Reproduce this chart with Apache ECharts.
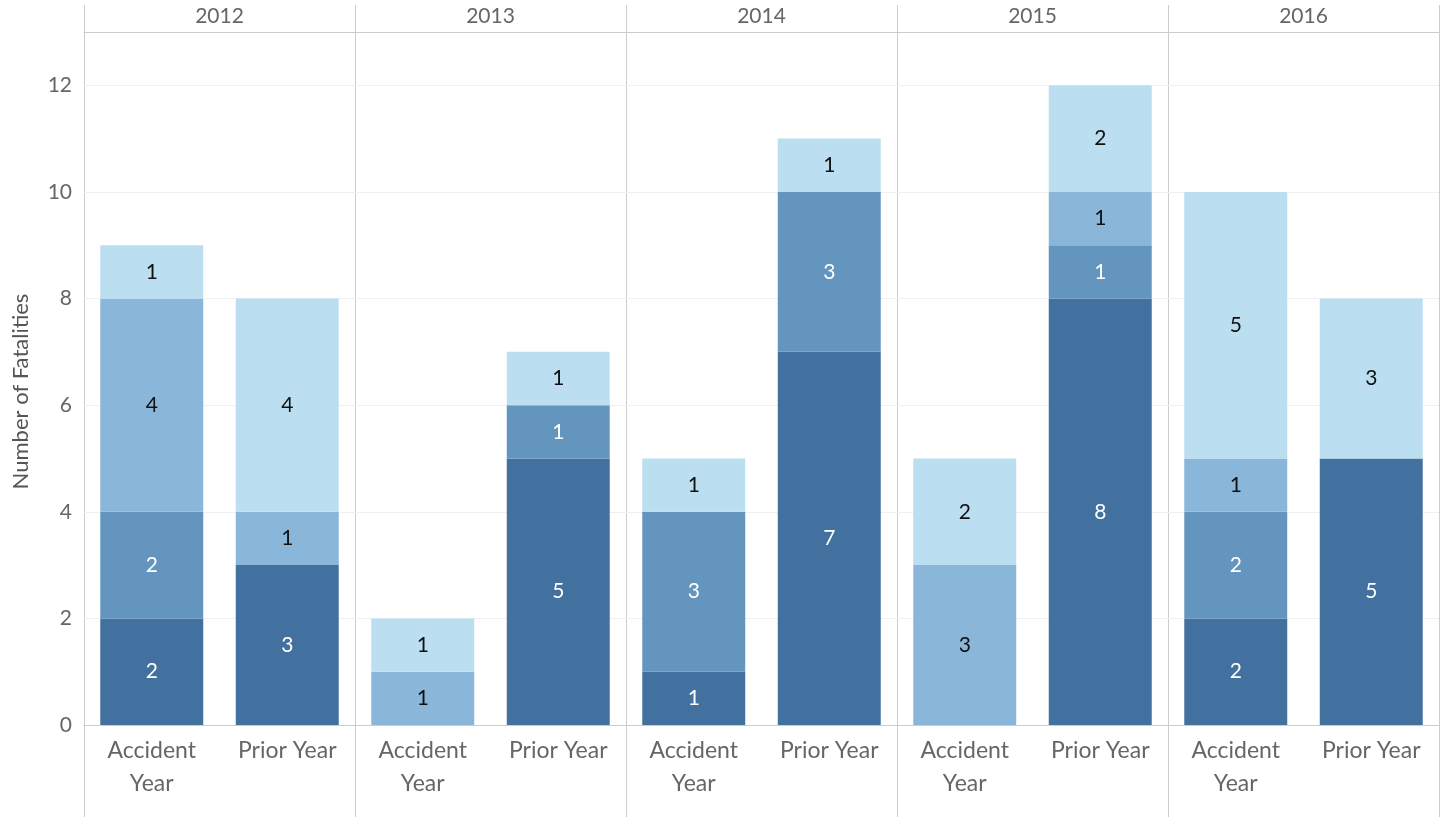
<!DOCTYPE html>
<html>
<head>
<meta charset="utf-8">
<script src="https://cdn.jsdelivr.net/npm/echarts@6/dist/echarts.min.js"></script>
<style>
  html, body { margin: 0; padding: 0; background: #fff; }
  #chart { width: 1441px; height: 817px; }
</style>
</head>
<body>
<div id="chart"></div>
<script>
// one entry per year panel
const years = ['2012', '2013', '2014', '2015', '2016']
const categories = ['Accident\nYear', 'Prior Year']

// stacked bands, bottom to top; pairs per year: [Accident, Prior]
const band1 = [2, 3, 0, 5, 1, 7, 0, 8, 2, 5]
const band2 = [2, 0, 0, 1, 3, 3, 0, 1, 2, 0]
const band3 = [4, 1, 1, 0, 0, 0, 3, 1, 1, 0]
const band4 = [1, 4, 1, 1, 1, 1, 2, 2, 5, 3]
const yTicks = [0, 2, 4, 6, 8, 10, 12]

const bands = [band1, band2, band3, band4]
const bandColors = ['#42709f', '#6495bf', '#8ab7d9', '#bbdff1']
const labelColors = ['#ffffff', '#ffffff', '#111111', '#111111']

const chart = echarts.init(document.getElementById('chart'))
const fontFamily = 'Lato, "Open Sans", sans-serif'

const left0 = 84
const right0 = 1439
const panelW = (right0 - left0) / years.length
const top0 = 32
const base = 725

const grid = [], xAxis = [], yAxis = [], series = []

years.forEach((yr, i) => {
  grid.push({
    left: left0 + i * panelW,
    width: panelW,
    top: top0,
    height: base - top0
  })
  xAxis.push({
    gridIndex: i,
    type: 'category',
    data: categories,
    axisLine: { lineStyle: { color: '#cccccc' } },
    axisTick: { show: false },
    axisLabel: {
      color: '#666666',
      fontSize: 23,
      fontFamily,
      lineHeight: 33,
      margin: 9
    }
  })
  xAxis.push({
    gridIndex: i,
    type: 'category',
    position: 'top',
    data: [yr],
    axisLine: { lineStyle: { color: '#cccccc' } },
    axisTick: { show: false },
    axisLabel: { color: '#666666', fontSize: 21, fontFamily, margin: 5 }
  })
  yAxis.push({
    gridIndex: i,
    type: 'value',
    min: 0,
    max: 13,
    interval: 2,
    name: i === 0 ? 'Number of Fatalities' : '',
    nameLocation: 'middle',
    nameGap: 52,
    nameTextStyle: { color: '#555555', fontSize: 22, fontFamily, padding: [0, 26, 0, 0] },
    axisLine: { show: false },
    axisTick: { show: false },
    axisLabel: {
      show: i === 0,
      color: '#666666',
      fontSize: 21,
      fontFamily,
      margin: 12,
      formatter: v => (yTicks.includes(v) ? v : '')
    },
    splitLine: { lineStyle: { color: '#f0f0f0', width: 1 } }
  })
  bands.forEach((b, k) => {
    series.push({
      type: 'bar',
      xAxisIndex: i * 2,
      yAxisIndex: i,
      stack: 'y' + i,
      barWidth: '76%',
      data: b.slice(i * 2, i * 2 + 2),
      itemStyle: { color: bandColors[k] },
      label: {
        show: true,
        position: 'inside',
        color: labelColors[k],
        fontSize: 21,
        fontFamily,
        formatter: p => (p.value ? p.value : '')
      },
      emphasis: { disabled: true }
    })
  })
})

// panel dividers, full height like the reference
const dividers = []
for (let i = 0; i <= years.length; i++) {
  const x = Math.round(left0 + i * panelW) + 0.5
  dividers.push({
    type: 'line',
    shape: { x1: x, y1: 5, x2: x, y2: 817 },
    style: { stroke: '#cccccc', lineWidth: 1 },
    silent: true
  })
}

chart.setOption({
  animation: false,
  backgroundColor: '#ffffff',
  grid,
  xAxis,
  yAxis,
  series,
  graphic: dividers
})
</script>
</body>
</html>
